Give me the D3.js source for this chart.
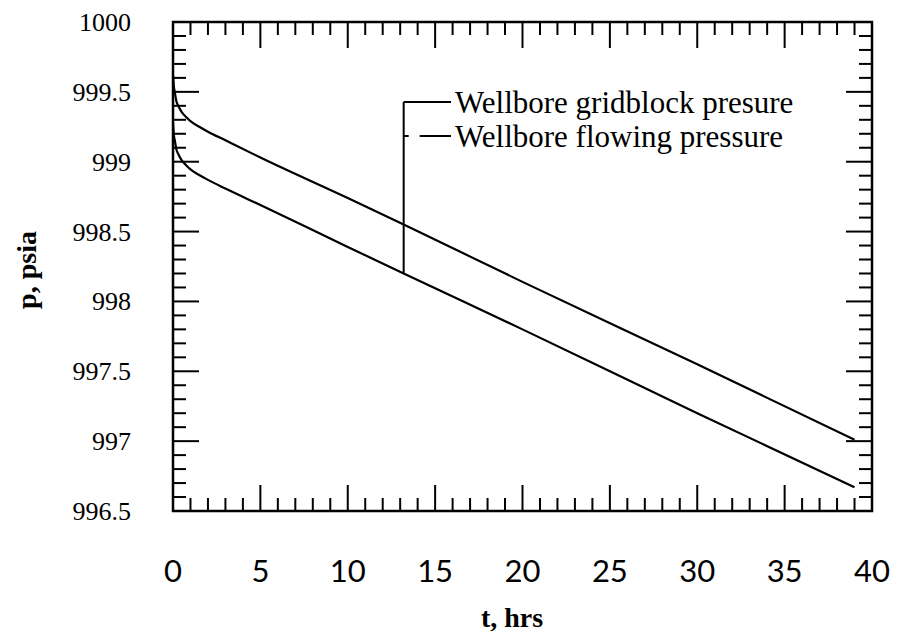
<!DOCTYPE html>
<html>
<head>
<meta charset="utf-8">
<script src="https://cdn.jsdelivr.net/npm/d3@7"></script>
<style>
  html, body { margin: 0; padding: 0; background: #fff; }
  svg { display: block; }
</style>
</head>
<body>
<svg id="chart" width="898" height="640"></svg>
<script>
// Time samples (hrs)
const timeHrs = [0, 0.05, 0.1, 0.2, 0.3, 0.5, 0.75, 1, 1.5, 2, 3, 5, 10, 13.2, 20, 30, 39];
// Wellbore gridblock pressure (psia)
const gridblockPressure = [999.62, 999.54, 999.50, 999.43, 999.40, 999.355, 999.32, 999.29, 999.25, 999.215, 999.153, 999.03, 998.74, 998.55, 998.14, 997.55, 997.01];
// Wellbore flowing pressure (psia)
const flowingPressure = [999.28, 999.19, 999.155, 999.085, 999.055, 999.01, 998.975, 998.945, 998.905, 998.87, 998.808, 998.69, 998.39, 998.20, 997.80, 997.20, 996.67];

const xTickValues = [0, 5, 10, 15, 20, 25, 30, 35, 40];
const yTickValues = [996.5, 997, 997.5, 998, 998.5, 999, 999.5, 1000];
const yTickLabels = ["996.5", "997", "997.5", "998", "998.5", "999", "999.5", "1000"];
const legendLabels = ["Wellbore gridblock presure", "Wellbore flowing pressure"];
// Legend leader drops to the flowing-pressure curve at this time
const leaderTime = 13.2;
const leaderPressure = 998.20;

const margin = { left: 173, right: 26, top: 22, bottom: 129 };
const W = 898, H = 640;
const svg = d3.select("#chart");

const x = d3.scaleLinear().domain([0, 40]).range([margin.left, W - margin.right]);
const y = d3.scaleLinear().domain([996.5, 1000]).range([H - margin.bottom, margin.top]);

const serif = "'Liberation Serif', 'Times New Roman', serif";
const sans = "Lato, 'DejaVu Sans', sans-serif";

const minorLen = 13, majorLen = 26;
const g = svg.append("g");

// Ticks on all four sides, pointing inward
const xMinor = d3.range(0, 41, 1);
const yMinor = d3.range(0, 36).map(i => +(996.5 + i * 0.1).toFixed(1));
const isMajorX = t => t % 5 === 0;
const isMajorY = v => Math.abs(v * 2 - Math.round(v * 2)) < 1e-6;

const tickStyle = s => s.attr("stroke", "#000").attr("stroke-width", 2);

g.selectAll("line.xb").data(xMinor).join("line")
  .attr("x1", d => x(d)).attr("x2", d => x(d))
  .attr("y1", y(996.5)).attr("y2", d => y(996.5) - (isMajorX(d) ? majorLen : minorLen))
  .call(tickStyle);
g.selectAll("line.xt").data(xMinor).join("line")
  .attr("x1", d => x(d)).attr("x2", d => x(d))
  .attr("y1", y(1000)).attr("y2", d => y(1000) + (isMajorX(d) ? majorLen : minorLen))
  .call(tickStyle);
g.selectAll("line.yl").data(yMinor).join("line")
  .attr("y1", d => y(d)).attr("y2", d => y(d))
  .attr("x1", x(0)).attr("x2", d => x(0) + (isMajorY(d) ? majorLen : minorLen))
  .call(tickStyle);
g.selectAll("line.yr").data(yMinor).join("line")
  .attr("y1", d => y(d)).attr("y2", d => y(d))
  .attr("x1", x(40)).attr("x2", d => x(40) - (isMajorY(d) ? majorLen : minorLen))
  .call(tickStyle);

// Frame
g.append("rect")
  .attr("x", x(0)).attr("y", y(1000))
  .attr("width", x(40) - x(0)).attr("height", y(996.5) - y(1000))
  .attr("fill", "none").attr("stroke", "#000").attr("stroke-width", 2.5);

// Tick labels
g.selectAll("text.xl").data(xTickValues).join("text")
  .attr("x", d => x(d)).attr("y", 582)
  .attr("text-anchor", "middle")
  .attr("font-family", sans).attr("font-size", 31)
  .attr("fill", "#000")
  .text(d => d);

g.selectAll("text.yl").data(yTickValues).join("text")
  .attr("x", 131).attr("y", d => y(d) + 9)
  .attr("text-anchor", "end")
  .attr("font-family", serif).attr("font-size", 26)
  .attr("fill", "#000")
  .text((d, i) => yTickLabels[i]);

// Axis titles
g.append("text")
  .attr("x", 512).attr("y", 627)
  .attr("text-anchor", "middle")
  .attr("font-family", serif).attr("font-size", 28).attr("font-weight", "bold")
  .text("t, hrs");
g.append("text")
  .attr("transform", "translate(36,270) rotate(-90)")
  .attr("text-anchor", "middle")
  .attr("font-family", serif).attr("font-size", 28).attr("font-weight", "bold")
  .text("p, psia");

// Curves
const line = d3.line().x(d => x(d[0])).y(d => y(d[1])).curve(d3.curveMonotoneX);
[gridblockPressure, flowingPressure].forEach(series => {
  g.append("path")
    .datum(timeHrs.map((t, i) => [t, series[i]]))
    .attr("d", line)
    .attr("fill", "none").attr("stroke", "#000").attr("stroke-width", 2.2);
});

// Legend with leader line
const lx = x(leaderTime);
const rowY = [102, 136];
g.append("line")
  .attr("x1", lx).attr("x2", lx).attr("y1", rowY[0]).attr("y2", y(leaderPressure))
  .attr("stroke", "#000").attr("stroke-width", 2);
g.append("line")
  .attr("x1", lx).attr("x2", 451).attr("y1", rowY[0]).attr("y2", rowY[0])
  .attr("stroke", "#000").attr("stroke-width", 2);
g.append("line")
  .attr("x1", lx).attr("x2", 451).attr("y1", rowY[1]).attr("y2", rowY[1])
  .attr("stroke", "#000").attr("stroke-width", 2)
  .attr("stroke-dasharray", "5,11,40");
g.selectAll("text.lg").data(legendLabels).join("text")
  .attr("x", 455).attr("y", (d, i) => rowY[i] + 11)
  .attr("font-family", serif).attr("font-size", 31)
  .attr("fill", "#000")
  .text(d => d);
</script>
</body>
</html>
